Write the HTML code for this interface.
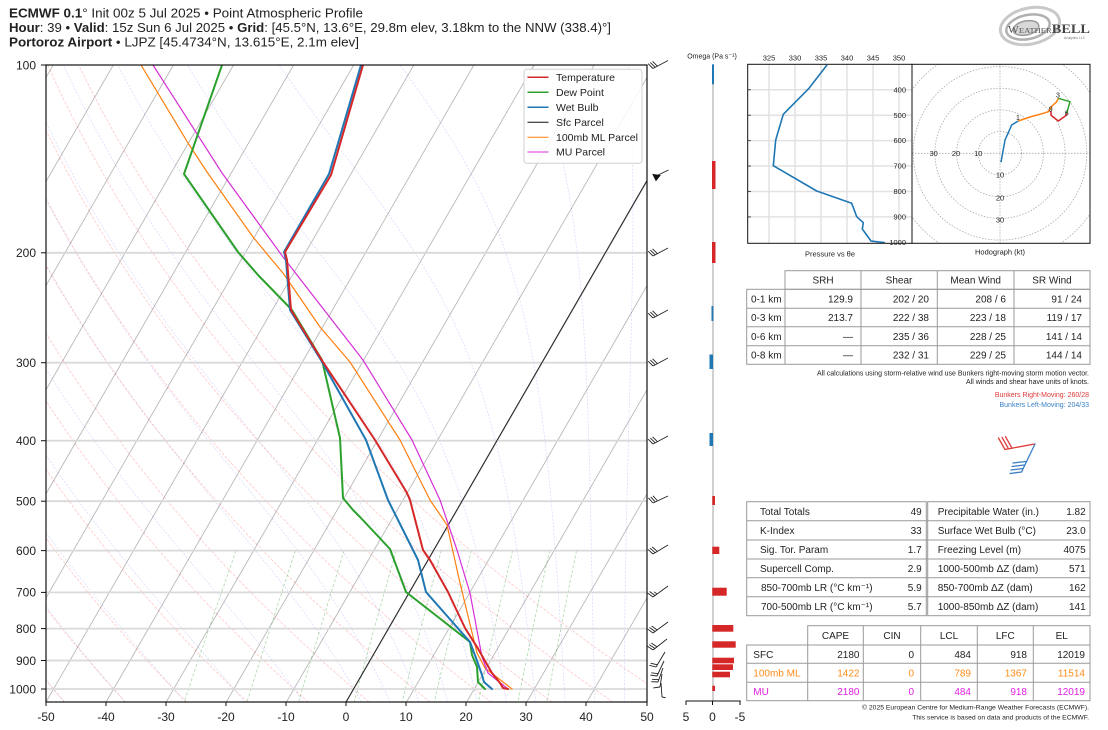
<!DOCTYPE html>
<html>
<head>
<meta charset="utf-8">
<style>
html,body{margin:0;padding:0;background:#fff;}
svg{display:block;}
text{font-family:"Liberation Sans","DejaVu Sans",sans-serif;fill:#222;}
</style>
</head>
<body>
<svg id="s" xmlns="http://www.w3.org/2000/svg" width="1108" height="730" viewBox="0 0 1108 730">
<defs>
  <clipPath id="skc"><rect x="46" y="65" width="601" height="637"/></clipPath>
  <clipPath id="hodc"><rect x="912" y="64.3" width="178" height="179"/></clipPath>
</defs>
<rect x="0" y="0" width="1108" height="730" fill="#fff"/>

<!-- Header -->
<text x="9" y="17.3" font-size="12.8" textLength="354" lengthAdjust="spacingAndGlyphs"><tspan font-weight="bold">ECMWF 0.1</tspan>° Init 00z 5 Jul 2025 • Point Atmospheric Profile</text>
<text x="9" y="31.8" font-size="12.8" textLength="602" lengthAdjust="spacingAndGlyphs"><tspan font-weight="bold">Hour</tspan>: 39 • <tspan font-weight="bold">Valid</tspan>: 15z Sun 6 Jul 2025 • <tspan font-weight="bold">Grid</tspan>: [45.5°N, 13.6°E, 29.8m elev, 3.18km to the NNW (338.4)°]</text>
<text x="9" y="46.3" font-size="12.8" textLength="350" lengthAdjust="spacingAndGlyphs"><tspan font-weight="bold">Portoroz Airport</tspan> • LJPZ [45.4734°N, 13.615°E, 2.1m elev]</text>

<!-- Logo -->
<g>
  <ellipse cx="1030" cy="26" rx="30" ry="18" fill="none" stroke="#c8c8c8" stroke-width="3" transform="rotate(-12 1030 26)"/>
  <ellipse cx="1028" cy="27" rx="22" ry="12" fill="none" stroke="#b0b0b0" stroke-width="2.5" transform="rotate(-12 1028 27)"/>
  <ellipse cx="1026" cy="28" rx="13" ry="7" fill="#d8d8d8" stroke="#9a9a9a" stroke-width="1.5" transform="rotate(-12 1026 28)"/>
  <text x="1008" y="33" style="font-family:'Liberation Serif',serif;fill:#555;font-size:10px" textLength="82" lengthAdjust="spacingAndGlyphs">W<tspan style="font-size:7.5px">EATHER</tspan><tspan style="font-size:12.5px;font-weight:bold;fill:#444">BELL</tspan></text>
  <text x="1064" y="39" style="font-size:3.5px;fill:#777">Analytics LLC</text>
</g>

<!-- Skew-T guides (generated) -->
<g id="guides" clip-path="url(#skc)"></g>

<!-- Horizontal grid lines -->
<g stroke="#d9d9d9" stroke-width="1.8">
  <line x1="46" x2="647" y1="252.8" y2="252.8"/>
  <line x1="46" x2="647" y1="362.7" y2="362.7"/>
  <line x1="46" x2="647" y1="440.7" y2="440.7"/>
  <line x1="46" x2="647" y1="501.2" y2="501.2"/>
  <line x1="46" x2="647" y1="550.6" y2="550.6"/>
  <line x1="46" x2="647" y1="592.4" y2="592.4"/>
  <line x1="46" x2="647" y1="628.6" y2="628.6"/>
  <line x1="46" x2="647" y1="660.5" y2="660.5"/>
  <line x1="46" x2="647" y1="689.0" y2="689.0"/>
</g>

<!-- Profiles -->
<g clip-path="url(#skc)" fill="none" stroke-linejoin="round" stroke-linecap="round">
  <line x1="346" y1="702" x2="647" y2="180.5" stroke="#222" stroke-width="1"/>
  <polyline stroke="#ff7f0e" stroke-width="1.2" points="141,65 188,143 207,172 253,237 272,260 283,273 320,327 350,362 400,440 430,500 447,525 460,583 477,653 485,668 512,689"/>
  <polyline stroke="#d62fd6" stroke-width="1.2" points="153,65 222,173 283,257 297,275 363,360 412,440 440,500 457,550 470,593 482,657 488,673 508,689"/>
  <polyline stroke="#2ca02c" stroke-width="2" points="222,65 184,174 238,252 258,275 292,310 322,360 340,438 343,498 353,510 360,517 390,549 406,592 470,642 472,655 477,667 478,682 485,689"/>
  <polyline stroke="#1f77b4" stroke-width="2" points="361,65 329,174 284,252 286,260 290,310 321,360 366,440 388,500 418,560 426,592 470,642 476,658 482,675 484,682 492,689"/>
  <polyline stroke="#d62728" stroke-width="2" points="363,65 331,175 285,252 287,260 291,310 323,362 375,440 407,493 410,500 423,550 430,560 448,592 465,628 477,647 492,673 500,683 503,688 508,689"/>
</g>

<!-- Spines -->
<rect x="46" y="65" width="601" height="637" fill="none" stroke="#111" stroke-width="1.2"/>

<!-- Y ticks & labels -->
<g stroke="#111" stroke-width="1">
  <line x1="41" x2="46" y1="65" y2="65"/><line x1="41" x2="46" y1="252.8" y2="252.8"/>
  <line x1="41" x2="46" y1="362.7" y2="362.7"/><line x1="41" x2="46" y1="440.7" y2="440.7"/>
  <line x1="41" x2="46" y1="501.2" y2="501.2"/><line x1="41" x2="46" y1="550.6" y2="550.6"/>
  <line x1="41" x2="46" y1="592.4" y2="592.4"/><line x1="41" x2="46" y1="628.6" y2="628.6"/>
  <line x1="41" x2="46" y1="660.5" y2="660.5"/><line x1="41" x2="46" y1="689" y2="689"/>
</g>
<g font-size="12" text-anchor="end">
  <text x="36" y="69.3">100</text><text x="36" y="257">200</text><text x="36" y="367">300</text>
  <text x="36" y="445">400</text><text x="36" y="505.5">500</text><text x="36" y="555">600</text>
  <text x="36" y="596.7">700</text><text x="36" y="633">800</text><text x="36" y="664.8">900</text>
  <text x="36" y="693.3">1000</text>
</g>
<!-- X ticks & labels -->
<g stroke="#111" stroke-width="1">
  <line x1="46" x2="46" y1="702" y2="706"/><line x1="106" x2="106" y1="702" y2="706"/>
  <line x1="166" x2="166" y1="702" y2="706"/><line x1="226" x2="226" y1="702" y2="706"/>
  <line x1="286" x2="286" y1="702" y2="706"/><line x1="346" x2="346" y1="702" y2="706"/>
  <line x1="406" x2="406" y1="702" y2="706"/><line x1="466" x2="466" y1="702" y2="706"/>
  <line x1="526" x2="526" y1="702" y2="706"/><line x1="586" x2="586" y1="702" y2="706"/>
  <line x1="647" x2="647" y1="702" y2="706"/>
</g>
<g font-size="12" text-anchor="middle">
  <text x="46" y="721">-50</text><text x="106" y="721">-40</text><text x="166" y="721">-30</text>
  <text x="226" y="721">-20</text><text x="286" y="721">-10</text><text x="346" y="721">0</text>
  <text x="406" y="721">10</text><text x="466" y="721">20</text><text x="526" y="721">30</text>
  <text x="586" y="721">40</text><text x="647" y="721">50</text>
</g>

<!-- Legend -->
<g>
  <rect x="524" y="69.3" width="118" height="94" rx="3" fill="#fff" fill-opacity="0.85" stroke="#d0d0d0" stroke-width="1"/>
  <line x1="527.5" x2="548.5" y1="77.3" y2="77.3" stroke="#d62728" stroke-width="1.5"/>
  <line x1="527.5" x2="548.5" y1="92.3" y2="92.3" stroke="#2ca02c" stroke-width="1.5"/>
  <line x1="527.5" x2="548.5" y1="107.3" y2="107.3" stroke="#1f77b4" stroke-width="1.5"/>
  <line x1="527.5" x2="548.5" y1="122.3" y2="122.3" stroke="#111" stroke-width="1"/>
  <line x1="527.5" x2="548.5" y1="137.3" y2="137.3" stroke="#ff7f0e" stroke-width="1"/>
  <line x1="527.5" x2="548.5" y1="152" y2="152" stroke="#d62fd6" stroke-width="1"/>
  <g font-size="10.5">
    <text x="556" y="81">Temperature</text>
    <text x="556" y="96">Dew Point</text>
    <text x="556" y="111">Wet Bulb</text>
    <text x="556" y="126">Sfc Parcel</text>
    <text x="556" y="141">100mb ML Parcel</text>
    <text x="556" y="155.7">MU Parcel</text>
  </g>
</g>

<!-- Wind barbs (generated) -->
<g id="barbs" stroke="#222" stroke-width="0.9" fill="none"></g>

<!-- Omega column -->
<line x1="713" x2="713" y1="65" y2="701" stroke="#d0d0d0" stroke-width="2"/>
<g fill="#d62728">
  <rect x="712" y="161" width="3.5" height="28"/>
  <rect x="712" y="242" width="3.5" height="21"/>
  <rect x="712.3" y="496" width="2.7" height="9"/>
  <rect x="712.3" y="546.7" width="7" height="7.3"/>
  <rect x="712.3" y="587.7" width="14.4" height="8"/>
  <rect x="712.3" y="625" width="21" height="6.7"/>
  <rect x="712.3" y="641.3" width="23.4" height="6.4"/>
  <rect x="712.3" y="657.7" width="21.7" height="5.6"/>
  <rect x="712.3" y="664.3" width="20.7" height="5.7"/>
  <rect x="712.3" y="671.7" width="17.7" height="5.6"/>
  <rect x="712.3" y="685.7" width="2.7" height="5.3"/>
</g>
<g fill="#1f77b4">
  <rect x="712" y="64.3" width="2" height="20"/>
  <rect x="711.5" y="306" width="1.8" height="15"/>
  <rect x="709.5" y="354.5" width="3.5" height="14.5"/>
  <rect x="709.5" y="433" width="3.5" height="13"/>
</g>
<line x1="685.7" x2="740.7" y1="701" y2="701" stroke="#111" stroke-width="1"/>
<g stroke="#111" stroke-width="1">
  <line x1="686" x2="686" y1="701" y2="705"/><line x1="712.5" x2="712.5" y1="701" y2="705"/><line x1="740" x2="740" y1="701" y2="705"/>
</g>
<g font-size="12" text-anchor="middle">
  <text x="686" y="721">5</text><text x="712.5" y="721">0</text><text x="740" y="721">-5</text>
</g>
<text x="712" y="58.5" font-size="7" text-anchor="middle">Omega (Pa s⁻¹)</text>

<!-- Theta-e panel -->
<g>
  <g stroke="#e2e2e2" stroke-width="1.5">
    <line x1="769" x2="769" y1="64.3" y2="243.3"/><line x1="795" x2="795" y1="64.3" y2="243.3"/>
    <line x1="821" x2="821" y1="64.3" y2="243.3"/><line x1="847" x2="847" y1="64.3" y2="243.3"/>
    <line x1="873" x2="873" y1="64.3" y2="243.3"/><line x1="899" x2="899" y1="64.3" y2="243.3"/>
    <line x1="747.7" x2="912" y1="89.7" y2="89.7"/><line x1="747.7" x2="912" y1="115.2" y2="115.2"/>
    <line x1="747.7" x2="912" y1="140.6" y2="140.6"/><line x1="747.7" x2="912" y1="166" y2="166"/>
    <line x1="747.7" x2="912" y1="191.5" y2="191.5"/><line x1="747.7" x2="912" y1="216.9" y2="216.9"/>
  </g>
  <g stroke="#555" stroke-width="1">
    <line x1="747.7" x2="751" y1="89.7" y2="89.7"/><line x1="747.7" x2="751" y1="115.2" y2="115.2"/>
    <line x1="747.7" x2="751" y1="140.6" y2="140.6"/><line x1="747.7" x2="751" y1="166" y2="166"/>
    <line x1="747.7" x2="751" y1="191.5" y2="191.5"/><line x1="747.7" x2="751" y1="216.9" y2="216.9"/>
  </g>
  <polyline fill="none" stroke="#1f77b4" stroke-width="1.6" stroke-linejoin="round" points="827,65 809,88.3 783.3,114.3 775.7,140 773.3,165.7 816.7,191 851.7,203.3 856.7,216.7 863.3,222.7 862.3,229 871,241 885,242.7"/>
  <rect x="747.7" y="64.3" width="164.3" height="179" fill="none" stroke="#111" stroke-width="1"/>
  <g font-size="7.5" text-anchor="middle">
    <text x="769" y="60.5">325</text><text x="795" y="60.5">330</text><text x="821" y="60.5">335</text>
    <text x="847" y="60.5">340</text><text x="873" y="60.5">345</text><text x="899" y="60.5">350</text>
  </g>
  <g font-size="7.5" text-anchor="end">
    <text x="906" y="92.3">400</text><text x="906" y="117.8">500</text><text x="906" y="143.2">600</text>
    <text x="906" y="168.6">700</text><text x="906" y="194.1">800</text><text x="906" y="219.5">900</text>
    <text x="906" y="244.9">1000</text>
  </g>
  <text x="830" y="256.5" font-size="7.5" text-anchor="middle">Pressure vs θe</text>
</g>

<!-- Hodograph -->
<g>
  <g clip-path="url(#hodc)" fill="none" stroke="#aaa" stroke-width="0.8" stroke-dasharray="1.5,1.5">
    <circle cx="1000" cy="153.3" r="21.7"/><circle cx="1000" cy="153.3" r="43.4"/>
    <circle cx="1000" cy="153.3" r="65.1"/><circle cx="1000" cy="153.3" r="86.8"/>
    <circle cx="1000" cy="153.3" r="108.5"/>
    <line x1="912" x2="1090" y1="153.3" y2="153.3"/>
    <line x1="1000" x2="1000" y1="64.3" y2="243.3"/>
  </g>
  <g font-size="7.5" text-anchor="middle">
    <text x="933.7" y="156">30</text><text x="956" y="156">20</text><text x="978.3" y="156">10</text>
    <text x="1000" y="177.7">10</text><text x="1000" y="200.4">20</text><text x="1000" y="222.7">30</text>
  </g>
  <g fill="none" stroke-width="1.5" stroke-linejoin="round">
    <polyline stroke="#1f77b4" points="1001,162.3 1005,140 1011.7,125 1018.3,121"/>
    <polyline stroke="#ff7f0e" points="1018.3,121 1030,117 1043.3,113.3 1048.3,111.7 1052,106 1056.7,101.7 1058.3,98.3"/>
    <polyline stroke="#2ca02c" points="1058.3,98.3 1070,101.7 1066.7,113.3"/>
    <polyline stroke="#d62728" points="1066.7,113.3 1066,115.5 1058.3,121 1051,115.3 1051,111"/>
  </g>
  <g font-size="7" text-anchor="middle">
    <text x="1018" y="120">1</text><text x="1058" y="97.7">3</text>
    <text x="1050.7" y="111.7">9</text><text x="1066.7" y="115.7">6</text>
  </g>
  <rect x="912" y="64.3" width="178" height="179" fill="none" stroke="#111" stroke-width="1"/>
  <text x="1000" y="254.5" font-size="7.5" text-anchor="middle">Hodograph (kt)</text>
</g>

<!-- SRH / shear table -->
<g fill="none" stroke="#999" stroke-width="1">
  <rect x="785" y="270.7" width="305" height="18.6"/>
  <line x1="861" x2="861" y1="270.7" y2="364.3"/><line x1="937.3" x2="937.3" y1="270.7" y2="364.3"/>
  <line x1="1014" x2="1014" y1="270.7" y2="364.3"/>
  <rect x="746.7" y="289.3" width="343.3" height="75"/>
  <line x1="785" x2="785" y1="289.3" y2="364.3"/>
  <line x1="746.7" x2="1090" y1="308.3" y2="308.3"/><line x1="746.7" x2="1090" y1="326.7" y2="326.7"/>
  <line x1="746.7" x2="1090" y1="345.7" y2="345.7"/>
</g>
<g font-size="10">
  <g text-anchor="middle">
    <text x="823" y="283.6">SRH</text><text x="899" y="283.6">Shear</text>
    <text x="975.7" y="283.6">Mean Wind</text><text x="1052" y="283.6">SR Wind</text>
  </g>
  <text x="751" y="302.4">0-1 km</text><text x="751" y="321.1">0-3 km</text>
  <text x="751" y="339.8">0-6 km</text><text x="751" y="358.6">0-8 km</text>
  <g text-anchor="end">
    <text x="853" y="302.4">129.9</text><text x="929" y="302.4">202 / 20</text><text x="1006" y="302.4">208 / 6</text><text x="1082" y="302.4">91 / 24</text>
    <text x="853" y="321.1">213.7</text><text x="929" y="321.1">222 / 38</text><text x="1006" y="321.1">223 / 18</text><text x="1082" y="321.1">119 / 17</text>
    <text x="853" y="339.8">—</text><text x="929" y="339.8">235 / 36</text><text x="1006" y="339.8">228 / 25</text><text x="1082" y="339.8">141 / 14</text>
    <text x="853" y="358.6">—</text><text x="929" y="358.6">232 / 31</text><text x="1006" y="358.6">229 / 25</text><text x="1082" y="358.6">144 / 14</text>
  </g>
</g>
<g font-size="7" text-anchor="end">
  <text x="1089" y="375.5">All calculations using storm-relative wind use Bunkers right-moving storm motion vector.</text>
  <text x="1089" y="384.2">All winds and shear have units of knots.</text>
  <text x="1089" y="396.8" style="fill:#e03a3a">Bunkers Right-Moving: 260/28</text>
  <text x="1089" y="406.8" style="fill:#3a80c4">Bunkers Left-Moving: 204/33</text>
</g>
<!-- storm motion barbs -->
<g fill="none" stroke-width="1.3" stroke-linecap="round">
  <g stroke="#e03a3a">
    <line x1="1034.5" y1="444" x2="1005" y2="449.5"/>
    <line x1="1005" y1="449.5" x2="998.5" y2="438"/>
    <line x1="1008.5" y1="448.8" x2="1002" y2="437.3"/>
    <line x1="1012" y1="448.2" x2="1005.5" y2="436.7"/>
  </g>
  <g stroke="#3a80c4">
    <line x1="1035" y1="444" x2="1021.5" y2="472"/>
    <line x1="1021.5" y1="472" x2="1010" y2="473.5"/>
    <line x1="1023" y1="468.5" x2="1011" y2="470"/>
    <line x1="1024.5" y1="465" x2="1012" y2="466.5"/>
    <line x1="1026" y1="461.5" x2="1013" y2="463"/>
  </g>
</g>

<!-- Indices tables -->
<g fill="none" stroke="#999" stroke-width="1">
  <rect x="746.7" y="501.7" width="179.6" height="114"/>
  <rect x="927.7" y="501.7" width="162.3" height="114"/>
  <line x1="746.7" x2="1090" y1="520.7" y2="520.7"/><line x1="746.7" x2="1090" y1="540" y2="540"/>
  <line x1="746.7" x2="1090" y1="559" y2="559"/><line x1="746.7" x2="1090" y1="577.7" y2="577.7"/>
  <line x1="746.7" x2="1090" y1="596.7" y2="596.7"/>
</g>
<g font-size="10">
  <text x="760" y="514.8">Total Totals</text>
  <text x="760" y="533.9">K-Index</text>
  <text x="760" y="553.1">Sig. Tor. Param</text>
  <text x="760" y="571.9">Supercell Comp.</text>
  <text x="761" y="590.8">850-700mb LR (°C km⁻¹)</text>
  <text x="761" y="609.8">700-500mb LR (°C km⁻¹)</text>
  <g text-anchor="end">
    <text x="921.7" y="514.8">49</text><text x="921.7" y="533.9">33</text><text x="921.7" y="553.1">1.7</text>
    <text x="921.7" y="571.9">2.9</text><text x="921.7" y="590.8">5.9</text><text x="921.7" y="609.8">5.7</text>
  </g>
  <text x="937.7" y="514.8">Precipitable Water (in.)</text>
  <text x="937.7" y="533.9">Surface Wet Bulb (°C)</text>
  <text x="937.7" y="553.1">Freezing Level (m)</text>
  <text x="937.7" y="571.9">1000-500mb ΔZ (dam)</text>
  <text x="937.7" y="590.8">850-700mb ΔZ (dam)</text>
  <text x="937.7" y="609.8">1000-850mb ΔZ (dam)</text>
  <g text-anchor="end">
    <text x="1085.7" y="514.8">1.82</text><text x="1085.7" y="533.9">23.0</text><text x="1085.7" y="553.1">4075</text>
    <text x="1085.7" y="571.9">571</text><text x="1085.7" y="590.8">162</text><text x="1085.7" y="609.8">141</text>
  </g>
</g>

<!-- CAPE table -->
<g fill="none" stroke="#999" stroke-width="1">
  <rect x="807.7" y="625.7" width="282.3" height="19.3"/>
  <rect x="746.7" y="645" width="343.3" height="55.7"/>
  <line x1="746.7" x2="1090" y1="663.3" y2="663.3"/><line x1="746.7" x2="1090" y1="682.3" y2="682.3"/>
  <line x1="807.7" x2="807.7" y1="645" y2="700.7"/>
  <line x1="863.3" x2="863.3" y1="625.7" y2="700.7"/><line x1="920.7" x2="920.7" y1="625.7" y2="700.7"/>
  <line x1="977.3" x2="977.3" y1="625.7" y2="700.7"/><line x1="1033.3" x2="1033.3" y1="625.7" y2="700.7"/>
</g>
<g font-size="10">
  <g text-anchor="middle">
    <text x="835.5" y="638.9">CAPE</text><text x="892" y="638.9">CIN</text><text x="949" y="638.9">LCL</text>
    <text x="1005.3" y="638.9">LFC</text><text x="1061.7" y="638.9">EL</text>
  </g>
  <text x="753.3" y="657.8">SFC</text>
  <g text-anchor="end">
    <text x="859.5" y="657.8">2180</text><text x="914" y="657.8">0</text><text x="971" y="657.8">484</text>
    <text x="1027" y="657.8">918</text><text x="1085" y="657.8">12019</text>
  </g>
  <text x="753.3" y="676.4" style="fill:#ff8c1a">100mb ML</text>
  <g text-anchor="end">
    <text x="859.5" y="676.4" style="fill:#ff8c1a">1422</text><text x="914" y="676.4" style="fill:#ff8c1a">0</text><text x="971" y="676.4" style="fill:#ff8c1a">789</text>
    <text x="1027" y="676.4" style="fill:#ff8c1a">1367</text><text x="1085" y="676.4" style="fill:#ff8c1a">11514</text>
  </g>
  <text x="753.3" y="695.1" style="fill:#e020e0">MU</text>
  <g text-anchor="end">
    <text x="859.5" y="695.1" style="fill:#e020e0">2180</text><text x="914" y="695.1" style="fill:#e020e0">0</text><text x="971" y="695.1" style="fill:#e020e0">484</text>
    <text x="1027" y="695.1" style="fill:#e020e0">918</text><text x="1085" y="695.1" style="fill:#e020e0">12019</text>
  </g>
</g>
<g font-size="6.8" text-anchor="end">
  <text x="1089" y="709.5">© 2025 European Centre for Medium-Range Weather Forecasts (ECMWF).</text>
  <text x="1089" y="719.5">This service is based on data and products of the ECMWF.</text>
</g>
</svg>

<script>
(function(){
  var NS='http://www.w3.org/2000/svg';
  var g=document.getElementById('guides');
  function Y(p){return 65+271*Math.log(p/100);}
  function X(t,y){return 46+(t+50)*6.01+(702-y)*0.5774;}
  function addPath(parent,pts,stroke,w,dash){
    var d='M'+pts.map(function(q){return q[0].toFixed(1)+','+q[1].toFixed(1);}).join('L');
    var e=document.createElementNS(NS,'path');
    e.setAttribute('d',d);e.setAttribute('fill','none');
    e.setAttribute('stroke',stroke);e.setAttribute('stroke-width',w);
    if(dash)e.setAttribute('stroke-dasharray',dash);
    parent.appendChild(e);
  }
  // isotherms
  for(var T=-160;T<=50;T+=10){
    addPath(g,[[X(T,702),702],[X(T,65),65]],'rgba(0,0,0,0.28)',0.9);
  }
  // dry adiabats
  for(var th=-50;th<=50;th+=10){
    var pts=[];
    for(var p=1050;p>=100;p-=10){
      var t=(th+273.15)*Math.pow(p/1000,0.2857)-273.15;var y=Y(p);pts.push([X(t,y),y]);
    }
    addPath(g,pts,'rgba(255,0,0,0.22)',0.8,'3,1.5');
  }
  // moist adiabats
  function es(T){var c=T-273.15;return 6.112*Math.exp(17.67*c/(c+243.5));}
  function dTdp(p,T){var e=es(T);var rs=0.622*e/(p-e);
    return (287.04*T+2.501e6*rs)/(1005.7+2.501e6*2.501e6*rs*0.622/(287.04*T*T))/p;}
  function step(p,T,h){var k1=dTdp(p,T),k2=dTdp(p+h/2,T+h/2*k1),k3=dTdp(p+h/2,T+h/2*k2),k4=dTdp(p+h,T+h*k3);
    return T+h/6*(k1+2*k2+2*k3+k4);}
  var t0s=[-50,-40,-30,-20,-10];
  for(var k=0;k<=50;k+=5)t0s.push(k);
  t0s.forEach(function(t0){
    var up=[],down=[];var T=t0+273.15,p=1000;
    up.push([p,T]);
    while(p>100){T=step(p,T,-5);p-=5;up.push([p,T]);}
    T=t0+273.15;p=1000;
    while(p<1050){T=step(p,T,5);p+=5;down.unshift([p,T]);}
    var all=down.concat(up).map(function(q){var y=Y(q[0]);return [X(q[1]-273.15,y),y];});
    addPath(g,all,'rgba(0,0,255,0.16)',0.7,'2,1.5');
  });
  // mixing ratio lines
  [0.0004,0.001,0.002,0.004,0.007,0.01,0.016,0.024,0.032].forEach(function(w){
    var pts=[];
    for(var p=600;p<=1050;p+=10){
      var e=w*p/(0.622+w);var l=Math.log(e/6.112);var td=243.5*l/(17.67-l);var y=Y(p);pts.push([X(td,y),y]);
    }
    addPath(g,pts,'rgba(0,140,0,0.33)',0.8,'3,2');
  });

  // wind barbs
  var b=document.getElementById('barbs');
  function line(x1,y1,x2,y2){var e=document.createElementNS(NS,'line');
    e.setAttribute('x1',x1);e.setAttribute('y1',y1);e.setAttribute('x2',x2);e.setAttribute('y2',y2);b.appendChild(e);}
  function barb(fx,fy,tx,ty,n,flag){
    line(fx,fy,tx,ty);
    var dx=tx-fx,dy=ty-fy,L=Math.sqrt(dx*dx+dy*dy);dx/=L;dy/=L;
    var px=dy,py=-dx;
    if(py>0){px=-px;py=-py;}
    if(flag){
      var e=document.createElementNS(NS,'polygon');
      e.setAttribute('points',(fx-2)+','+(fy-2)+' '+(fx+5)+','+(fy-1)+' '+(fx+1)+','+(fy+4));
      e.setAttribute('fill','#111');e.setAttribute('stroke','#111');
      b.appendChild(e);return;
    }
    for(var i=0;i<Math.floor(n);i++){
      var sx=fx+i*2.5*dx,sy=fy+i*2.5*dy;
      line(sx,sy,sx+6.5*px-2*dx,sy+6.5*py-2*dy);
    }
    if(n%1){var i2=Math.floor(n);var sx2=fx+i2*2.5*dx,sy2=fy+i2*2.5*dy;line(sx2,sy2,sx2+3.5*px-1*dx,sy2+3.5*py-1*dy);}
  }
  barb(653,68.5,668,60.5,3);
  barb(655,176.5,668.5,170,0,true);
  barb(653,256,668,248,3);
  barb(653,318,668,310,3);
  barb(653,366,668,358,3);
  barb(653,444,668,436,3);
  barb(653,503,668,496,3);
  barb(653,554,668,545,3);
  barb(653,597,668,586,2.5);
  barb(653,633,668,622,3);
  barb(653,650,667,639,3);
  barb(656,667,665,652,2);
  barb(657,676,664,661,2);
  barb(658,682,663,668,2);
  barb(660,687,662,674,1);
  barb(662,697,661,683,0.5);
})();
</script>
</body>
</html>
